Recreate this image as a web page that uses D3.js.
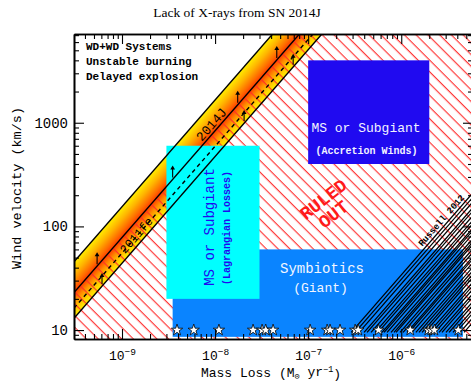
<!DOCTYPE html>
<html>
<head>
<meta charset="utf-8">
<script src="https://cdn.jsdelivr.net/npm/d3@7"></script>
<style>
  body { margin: 0; background: #fff; }
  svg { display: block; }
  text { font-family: "Liberation Mono", "DejaVu Sans Mono", monospace; }
</style>
</head>
<body>
<svg width="471" height="382"></svg>
<script>
// diagonal limits: v = 10 * (Mdot / m10)^SLOPE
const SLOPE = 1.03;
const limitNames = ["upper edge", "2014J", "2011fe", "lower edge"];
const limitM10 = [7.0e-11, 1.36e-10, 1.9e-10, 2.37e-10];
const arrows2014J = [5.4e-10, 3.5e-9, 1.75e-8, 4.6e-8];
const arrows2011fe = [6.1e-10, 2.05e-8, 6.9e-8];

// boxes: [Mdot min, Mdot max], [v min, v max]
const boxNames = ["Symbiotics", "MS Lagrangian", "MS Accretion"];
const boxMdot = [[3.5e-9, 4.6e-6], [3.0e-9, 3.0e-8], [1.0e-7, 2.0e-6]];
const boxVel = [[8.6, 60], [20, 600], [400, 4000]];
const boxColors = ["#0a84ff", "#00ffff", "#200af0"];

// symbiotic systems (stars) at v = 10 km/s
const STAR_V = 10;
const starMdot = [3.9e-9, 5.9e-9, 1.1e-8, 2.56e-8, 3.2e-8, 3.5e-8, 4.2e-8,
  1.05e-7, 1.6e-7, 1.72e-7, 2.2e-7, 3.2e-7, 3.45e-7, 5.7e-7,
  1.25e-6, 1.95e-6, 2.1e-6, 2.27e-6, 4.1e-6];

// Russell 2012 lines: Mdot at v = 10 km/s
const russellM10 = [3.05e-7, 3.35e-7, 3.7e-7, 4.19e-7, 4.51e-7, 4.98e-7, 5.5e-7,
  5.92e-7, 6.53e-7, 6.87e-7, 7.4e-7, 8.17e-7, 8.79e-7, 9.25e-7, 1.02e-6,
  1.1e-6, 1.21e-6, 1.27e-6, 1.37e-6, 1.51e-6, 1.63e-6, 1.76e-6, 1.89e-6,
  2.09e-6, 2.25e-6, 2.43e-6, 2.68e-6, 2.88e-6, 3.18e-6, 3.43e-6, 3.78e-6,
  4.07e-6, 4.5e-6, 4.97e-6];

const xMajor = [1e-9, 1e-8, 1e-7, 1e-6];
const yMajor = [10, 100, 1000];

const svg = d3.select("svg");
const X0 = 74, X1 = 473, Y0 = 34, Y1 = 339;

const x = d3.scaleLog().domain([3.05e-10, 5.9e-6]).range([X0, X1]);
const y = d3.scaleLog().domain([8.2, 7180]).range([Y1, Y0]);
const [mLo, mHi] = x.domain();

const vAt = (m10, m) => 10 * Math.pow(m / m10, SLOPE);
const mAt = (m10, v) => m10 * Math.pow(v / 10, 1 / SLOPE);

const defs = svg.append("defs");
defs.append("clipPath").attr("id", "plot")
  .append("rect")
  .attr("x", X0).attr("y", Y0)
  .attr("width", X1 - X0).attr("height", Y1 - Y0);

const hatch = defs.append("pattern")
  .attr("id", "hatch")
  .attr("patternUnits", "userSpaceOnUse")
  .attr("width", 8.3).attr("height", 8.3)
  .attr("patternTransform", "rotate(-45)");
hatch.append("line")
  .attr("x1", 4).attr("y1", -1).attr("x2", 4).attr("y2", 9.3)
  .attr("stroke", "#ff2a2a").attr("stroke-width", 1.1);

// gradient across the band, perpendicular to the lines
const pt = (m10, m) => [x(m), y(vAt(m10, m))];
const pA = pt(limitM10[0], 1e-9), pA2 = pt(limitM10[0], 1e-8);
let dir = [pA2[0] - pA[0], pA2[1] - pA[1]];
const len = Math.hypot(dir[0], dir[1]);
dir = [dir[0] / len, dir[1] / len];
const nrm = [-dir[1], dir[0]];
const proj = p => (p[0] - pA[0]) * nrm[0] + (p[1] - pA[1]) * nrm[1];
const dist = proj(pt(limitM10[3], 1e-9));
const tB = proj(pt(limitM10[1], 1e-9)) / dist;

const grad = defs.append("linearGradient")
  .attr("id", "band")
  .attr("gradientUnits", "userSpaceOnUse")
  .attr("x1", pA[0]).attr("y1", pA[1])
  .attr("x2", pA[0] + nrm[0] * dist).attr("y2", pA[1] + nrm[1] * dist);
[[0, "#ffee00"], [tB * 0.4, "#ffb400"], [tB * 0.8, "#ff6a00"], [tB, "#ff3c00"],
 [tB + (1 - tB) * 0.35, "#ff8c00"], [tB + (1 - tB) * 0.75, "#ffd200"], [1, "#ffec00"]]
  .forEach(([o, c]) => grad.append("stop").attr("offset", o).attr("stop-color", c));

const plot = svg.append("g").attr("clip-path", "url(#plot)");

// band between upper and lower edge
plot.append("path")
  .datum([mLo, mHi])
  .attr("fill", "url(#band)")
  .attr("d", d3.area()
    .x(m => x(m))
    .y0(m => y(vAt(limitM10[3], m)))
    .y1(m => y(vAt(limitM10[0], m))));

// ruled-out hatching below the 2014J limit
plot.append("path")
  .datum([mLo, mHi])
  .attr("fill", "url(#hatch)")
  .attr("d", d3.area()
    .x(m => x(m))
    .y0(Y1 + 5)
    .y1(m => y(vAt(limitM10[1], m))));

// boxes
plot.selectAll("rect.box")
  .data(boxNames)
  .join("rect")
  .attr("class", "box")
  .attr("x", (d, i) => x(boxMdot[i][0]))
  .attr("width", (d, i) => x(boxMdot[i][1]) - x(boxMdot[i][0]))
  .attr("y", (d, i) => y(boxVel[i][1]))
  .attr("height", (d, i) => y(boxVel[i][0]) - y(boxVel[i][1]))
  .attr("fill", (d, i) => boxColors[i]);

// limit lines
const diag = m10 => d3.line().x(m => x(m)).y(m => y(vAt(m10, m)))([mLo, mHi]);
plot.selectAll("path.limit")
  .data(limitNames)
  .join("path")
  .attr("class", "limit")
  .attr("d", (d, i) => diag(limitM10[i]))
  .attr("fill", "none")
  .attr("stroke", "#000")
  .attr("stroke-width", 1.4)
  .attr("stroke-dasharray", d => d === "2011fe" ? "4,3.5" : null);

// arrows
function drawArrows(ms, m10, off0, off1) {
  ms.forEach(m => {
    const px = x(m), py = y(vAt(m10, m));
    plot.append("line")
      .attr("x1", px).attr("y1", py - off0)
      .attr("x2", px).attr("y2", py - off1 + 3)
      .attr("stroke", "#000").attr("stroke-width", 1.1);
    plot.append("path")
      .attr("d", `M${px - 2.4},${py - off1 + 4} L${px},${py - off1} L${px + 2.4},${py - off1 + 4} Z`)
      .attr("fill", "#000");
  });
}
drawArrows(arrows2014J, limitM10[1], 2, 14);
drawArrows(arrows2011fe, limitM10[2], -8, 3);

// Russell 2012 lines
plot.selectAll("path.russell")
  .data(russellM10)
  .join("path")
  .attr("class", "russell")
  .attr("d", m10 => d3.line().x(m => x(m)).y(m => y(vAt(m10, m)))([mAt(m10, 9.5), mHi * 3]))
  .attr("fill", "none")
  .attr("stroke", "#000")
  .attr("stroke-width", 1.25);

// stars
plot.selectAll("path.star")
  .data(starMdot)
  .join("path")
  .attr("class", "star")
  .attr("transform", m => `translate(${x(m)},${y(STAR_V)})`)
  .attr("d", d3.symbol(d3.symbolStar, 40))
  .attr("fill", "#fff")
  .attr("stroke", "#000")
  .attr("stroke-width", 0.8);

// labels
function label(txt, px, py, opts = {}) {
  return svg.append("text")
    .attr("transform", `translate(${px},${py}) rotate(${opts.rot || 0})`)
    .attr("text-anchor", opts.anchor || "middle")
    .attr("dominant-baseline", "central")
    .attr("font-size", opts.size || 12)
    .attr("font-weight", opts.weight || "normal")
    .attr("fill", opts.color || "#000")
    .text(txt);
}

["WD+WD Systems", "Unstable burning", "Delayed explosion"].forEach((t, i) =>
  label(t, 86, 47 + i * 15, { anchor: "start", size: 11, weight: "bold" }));

const ang = Math.atan2(dir[1], dir[0]) * 180 / Math.PI;
label("2014J", 212, 125, { rot: ang, size: 13 });
label("2011fe", 137, 236, { rot: ang, size: 12 });
label("Russell 2012", 442, 221, { rot: ang, size: 9, weight: "bold" });

label("RULED", 324, 200, { rot: -38, size: 18, weight: "bold", color: "#ff1a1a" });
label("OUT", 334, 215, { rot: -38, size: 18, weight: "bold", color: "#ff1a1a" });

label("MS or Subgiant", 366, 128, { size: 13, color: "#f2f2ff" });
label("(Accretion Winds)", 366.5, 151, { size: 10, weight: "bold", color: "#f2f2ff" });

label("MS or Subgiant", 210, 227, { rot: -90, size: 14, color: "#200af0" });
label("(Lagrangian Losses)", 227, 228, { rot: -90, size: 10, weight: "bold", color: "#200af0" });

label("Symbiotics", 322, 269, { size: 14, color: "#f2f6ff" });
label("(Giant)", 320.5, 288, { size: 13, color: "#f2f6ff" });

// title
svg.append("text")
  .attr("x", 237).attr("y", 17)
  .attr("text-anchor", "middle")
  .style("font-family", "'Liberation Serif', 'DejaVu Serif', serif")
  .attr("font-size", 13.5)
  .text("Lack of X-rays from SN 2014J");

// axes
const xMinor = x.ticks().filter(t => !xMajor.some(m => Math.abs(t / m - 1) < 1e-6));
const yMinor = y.ticks().filter(t => !yMajor.some(m => Math.abs(t / m - 1) < 1e-6));

function styleAxis(g) {
  g.select(".domain").attr("stroke-width", 1.6);
  g.selectAll(".tick line").attr("stroke-width", 1.1);
  g.selectAll("text").style("font-family", "'Liberation Mono', 'DejaVu Sans Mono', monospace").attr("font-size", 14).attr("fill", "#000");
}

const gx = svg.append("g")
  .attr("transform", `translate(0,${Y1})`)
  .call(d3.axisBottom(x).tickValues(xMajor).tickSize(-10).tickSizeOuter(0).tickPadding(12))
  .call(styleAxis);
gx.selectAll(".tick text").attr("font-size", 13).each(function (d) {
  const t = d3.select(this).text(null);
  t.append("tspan").text("10");
  t.append("tspan").attr("dy", "-0.5em").attr("font-size", 9.5)
    .text("\u2212" + Math.round(-Math.log10(d)));
});
svg.append("g")
  .attr("transform", `translate(0,${Y1})`)
  .call(d3.axisBottom(x).tickValues(xMinor).tickSize(-5).tickSizeOuter(0).tickFormat(""))
  .call(styleAxis);

svg.append("g")
  .attr("transform", `translate(0,${Y0})`)
  .call(d3.axisTop(x).tickValues(xMajor).tickSize(-10).tickSizeOuter(0).tickFormat(""))
  .call(styleAxis);
svg.append("g")
  .attr("transform", `translate(0,${Y0})`)
  .call(d3.axisTop(x).tickValues(xMinor).tickSize(-5).tickSizeOuter(0).tickFormat(""))
  .call(styleAxis);

svg.append("g")
  .attr("transform", `translate(${X0},0)`)
  .call(d3.axisLeft(y).tickValues(yMajor).tickSize(-10).tickSizeOuter(0).tickPadding(6).tickFormat(d3.format("d")))
  .call(styleAxis);
svg.append("g")
  .attr("transform", `translate(${X0},0)`)
  .call(d3.axisLeft(y).tickValues(yMinor).tickSize(-5).tickSizeOuter(0).tickFormat(""))
  .call(styleAxis);

svg.append("g")
  .attr("transform", `translate(${X1},0)`)
  .call(d3.axisRight(y).tickValues(yMajor).tickSize(-10).tickSizeOuter(0).tickFormat(""))
  .call(styleAxis);
svg.append("g")
  .attr("transform", `translate(${X1},0)`)
  .call(d3.axisRight(y).tickValues(yMinor).tickSize(-5).tickSizeOuter(0).tickFormat(""))
  .call(styleAxis);

// axis titles
svg.append("text")
  .attr("transform", `translate(17,188) rotate(-90)`)
  .attr("text-anchor", "middle")
  .attr("dominant-baseline", "central")
  .attr("font-size", 13.5)
  .text("Wind velocity (km/s)");

const xt = svg.append("text")
  .attr("x", 271).attr("y", 377)
  .attr("text-anchor", "middle")
  .attr("font-size", 13);
xt.append("tspan").text("Mass Loss (M");
xt.append("tspan").attr("dy", "0.2em").attr("font-size", 8.5).text("\u2299");
xt.append("tspan").attr("dy", "-0.2em").text(" yr");
xt.append("tspan").attr("dy", "-0.45em").attr("font-size", 8.5).text("\u22121");
xt.append("tspan").attr("dy", "0.45em").text(")");
</script>
</body>
</html>
